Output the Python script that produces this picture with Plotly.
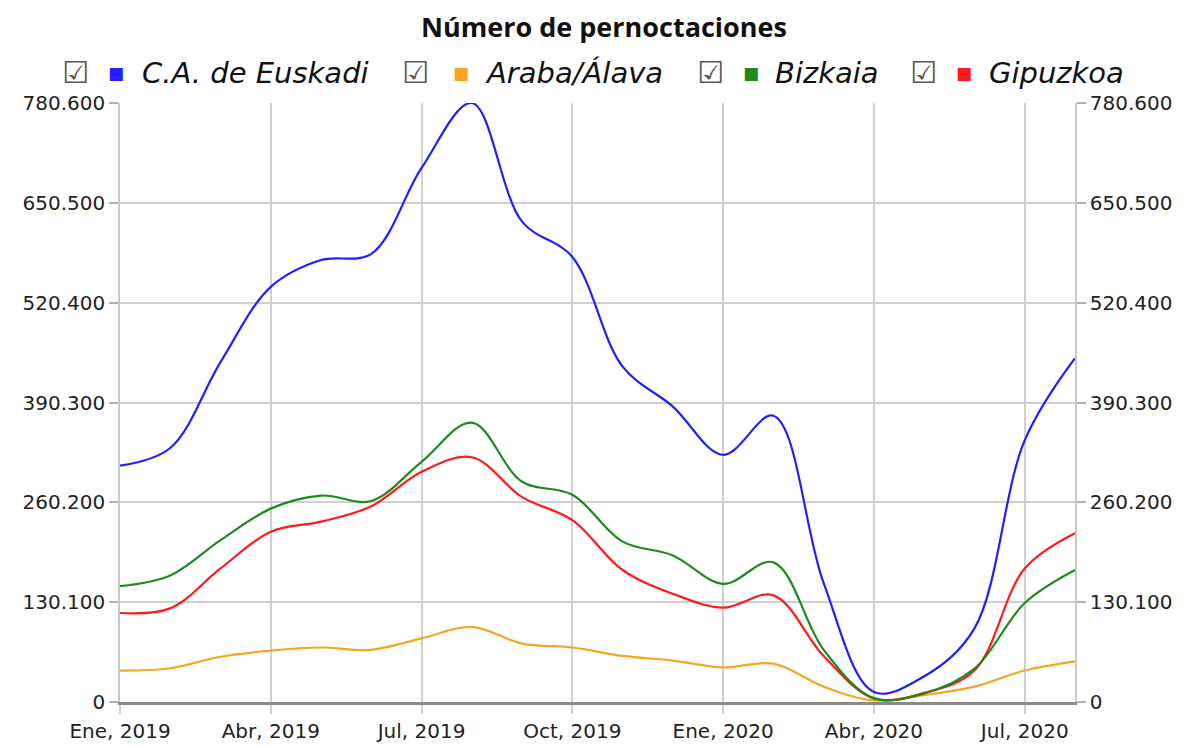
import plotly.graph_objects as go

# ---------------- data ----------------
months = ["Ene, 2019", "Feb, 2019", "Mar, 2019", "Abr, 2019", "May, 2019", "Jun, 2019",
          "Jul, 2019", "Ago, 2019", "Sep, 2019", "Oct, 2019", "Nov, 2019", "Dic, 2019",
          "Ene, 2020", "Feb, 2020", "Mar, 2020", "Abr, 2020", "May, 2020", "Jun, 2020",
          "Jul, 2020", "Ago, 2020"]

euskadi = [308000, 331000, 443000, 541000, 576000, 584000, 696000, 780600, 626000, 580000,
           437000, 385000, 322000, 373000, 155000, 13000, 33500, 96000, 341000, 448000]
araba = [41000, 44000, 59000, 67000, 71000, 68000, 83000, 98000, 76000, 71000,
         60000, 54000, 45000, 50000, 20000, 2000, 9000, 20000, 41000, 53000]
bizkaia = [151000, 165000, 211000, 252000, 269000, 262000, 313000, 364000, 287000, 270000,
           209000, 191000, 154000, 182000, 68000, 5000, 11000, 43500, 129000, 172000]
gipuzkoa = [116000, 122000, 174000, 222000, 235000, 255000, 300000, 319000, 267000, 237000,
            172000, 141000, 123000, 139000, 60000, 4500, 12000, 41000, 174000, 220000]

series_names = ["C.A. de Euskadi", "Araba/Álava", "Bizkaia", "Gipuzkoa"]
series_values = [euskadi, araba, bizkaia, gipuzkoa]
series_colors = ["#1f1fff", "#f5a623", "#1e8a1e", "#ff1a1a"]

x_tick_labels = ["Ene, 2019", "Abr, 2019", "Jul, 2019", "Oct, 2019",
                 "Ene, 2020", "Abr, 2020", "Jul, 2020"]
y_ticks = [0, 130100, 260200, 390300, 520400, 650500, 780600]
title_text = "Número de pernoctaciones"

# ---------------- layout constants ----------------
# the page adds an 8px body margin, so the figure is drawn 8px smaller
OFF = 8
W, H = 1188 - OFF, 746 - OFF
L, R, T, B = 120 - OFF, 113, 103 - OFF, 44
PW, PH = W - L - R, H - T - B
FONT = "DejaVu Sans"

x_pos = list(range(len(months)))
tick_pos = [months.index(t) for t in x_tick_labels]

fig = go.Figure()

# order drawn: orange, red, green, blue (blue on top)
for idx in [1, 3, 2, 0]:
    fig.add_trace(go.Scatter(
        x=x_pos, y=series_values[idx], name=series_names[idx], mode="lines",
        customdata=months,
        line=dict(color=series_colors[idx], width=2.2, shape="spline", smoothing=1.0),
        showlegend=False,
        hovertemplate="%{customdata}: %{y:,.0f}<extra>" + series_names[idx] + "</extra>"))

# invisible trace to carry the right axis
fig.add_trace(go.Scatter(x=x_pos, y=euskadi, yaxis="y2", mode="lines",
                         line=dict(width=0, color="rgba(0,0,0,0)"),
                         showlegend=False, hoverinfo="skip"))

axis_font = dict(family=FONT, size=20, color="#222")
yaxis_common = dict(range=[0, 780600], tickvals=y_ticks, tickformat=",d",
                    showgrid=True, gridcolor="#d0d0d0", gridwidth=1.5,
                    ticks="outside", ticklen=9, tickcolor="#b0b0b0", tickwidth=1.5,
                    showline=True, linecolor="#c8c8c8", linewidth=1.5,
                    zeroline=False, tickfont=axis_font, fixedrange=True,
                    automargin=False)

fig.update_layout(
    width=W, height=H,
    margin=dict(l=L, r=R, t=T, b=B),
    paper_bgcolor="white", plot_bgcolor="white",
    separators=",.",
    font=dict(family=FONT, color="#222"),
    title=dict(text="<b>" + title_text + "</b>", x=((604 - OFF) / W), xanchor="center",
               y=1 - (28 - OFF) / H, yanchor="middle",
               font=dict(family="Open Sans", size=27, color="#111")),
    xaxis=dict(range=[0, len(months) - 1],
               tickvals=tick_pos, ticktext=x_tick_labels,
               showgrid=True, gridcolor="#d0d0d0", gridwidth=1.5,
               ticks="outside", ticklen=9, tickcolor="#d0d0d0", tickwidth=1.5,
               showline=True, linecolor="#8a8a8a", linewidth=2.5, zeroline=False,
               tickfont=axis_font, fixedrange=True, automargin=False),
    yaxis=dict(side="left", **yaxis_common),
    yaxis2=dict(side="right", overlaying="y", **yaxis_common),
    showlegend=False,
)

# custom legend row (checkbox, coloured square, italic name)
legend_px = [(60, 106, 140), (400, 451, 483), (695, 741, 773), (908, 954, 987)]
legend_y = 1 + (103 - 73) / PH
for (cx, sx, tx), name, col in zip(legend_px, series_names, series_colors):
    fig.add_annotation(x=(cx - 120) / PW, y=legend_y, xref="paper", yref="paper",
                       xanchor="left", yanchor="middle", showarrow=False,
                       text="☑", font=dict(family=FONT, size=30, color="#555"))
    fig.add_annotation(x=(sx - 120) / PW, y=legend_y, xref="paper", yref="paper",
                       xanchor="left", yanchor="middle", showarrow=False,
                       text="■", font=dict(family=FONT, size=17, color=col))
    fig.add_annotation(x=(tx - 120) / PW, y=legend_y, xref="paper", yref="paper",
                       xanchor="left", yanchor="middle", showarrow=False,
                       text="<i>" + name + "</i>", font=dict(family=FONT, size=29, color="#111"))

fig.write_html("out.html")
